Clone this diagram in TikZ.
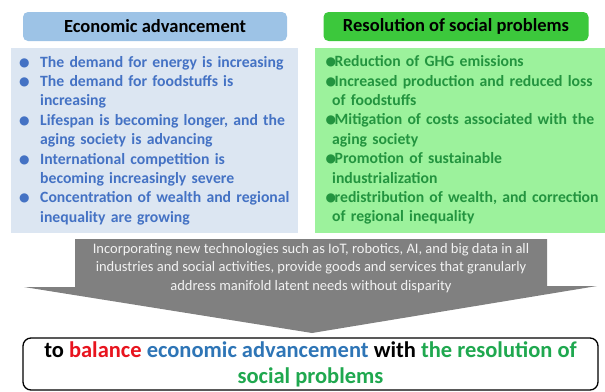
\documentclass[tikz,border=0pt]{standalone}
\usepackage{fontspec}
\setmainfont{Carlito}
\newfontfamily\dotfont{DejaVu Sans}
\usetikzlibrary{positioning}

% colours
\definecolor{ecoHead}{HTML}{9DC3E6}
\definecolor{ecoFill}{HTML}{DCE6F2}
\definecolor{ecoText}{HTML}{4472C4}
\definecolor{socHead}{HTML}{3CC83C}
\definecolor{socFill}{HTML}{9CF29C}
\definecolor{socText}{HTML}{23943F}
\definecolor{arrowGray}{HTML}{808080}
\definecolor{goalRed}{HTML}{E8141E}
\definecolor{goalBlue}{HTML}{2E75B6}
\definecolor{goalGreen}{HTML}{1FA84F}

% list bullets
\newcommand{\ecobul}{\par\noindent\hangindent=24pt\hangafter=1%
  \makebox[24pt][l]{\kern3pt\raisebox{1pt}{\dotfont\fontsize{12}{12}\selectfont ●}}}
\newcommand{\socbul}{\par\noindent\hangindent=5pt\hangafter=1%
  \makebox[7.5pt][l]{\kern-1.5pt\raisebox{1pt}{\dotfont\fontsize{12}{12}\selectfont ●}}}

\tikzset{
  headbox/.style={rounded corners=5pt, inner sep=0pt, minimum height=29pt,
    font=\bfseries\fontsize{18.5}{20}\selectfont},
  bodybox/.style={inner sep=0pt, minimum height=185pt},
  listtext/.style={anchor=north west, inner sep=0pt, align=left,
    font=\bfseries\fontsize{15.7}{19.4}\selectfont},
}

\begin{document}
\begin{tikzpicture}[x=1pt, y=-1pt]
  \useasboundingbox (0,0) rectangle (605,391);

  % economic advancement
  \node[headbox, fill=ecoHead, minimum width=264pt] (ecohead) at (155,26.5) {Economic advancement};
  \node[bodybox, fill=ecoFill, minimum width=287pt] (ecobody) at (154.5,140.5) {};
  \node[listtext, text=ecoText, text width=300pt] (ecolist) at (16,47.5) {%
    \ecobul The demand for energy is increasing
    \ecobul The demand for foodstuffs is\newline increasing
    \ecobul Lifespan is becoming longer, and the\newline aging society is advancing
    \ecobul International competition is\newline becoming increasingly severe
    \ecobul Concentration of wealth and regional\newline inequality are growing\par};

  % resolution of social problems
  \node[headbox, fill=socHead, minimum width=265pt] (sochead) at (456,26.5) {Resolution of social problems};
  \node[bodybox, fill=socFill, minimum width=290pt] (socbody) at (460,140.5) {};
  \node[listtext, text=socText, text width=300pt] (soclist) at (327,47) {%
    \socbul Reduction of GHG emissions
    \socbul Increased production and reduced loss\newline of foodstuffs
    \socbul Mitigation of costs associated with the\newline aging society
    \socbul Promotion of sustainable\newline industrialization
    \socbul redistribution of wealth, and correction\newline of regional inequality\par};

  % wide gray arrow
  \fill[arrowGray] (75,239) -- (547,239) -- (547,286) -- (597,286)
    -- (312,333) -- (24,287) -- (75,287) -- cycle;
  \node[text=white!95!black, align=center, font=\fontsize{14.5}{18.5}\selectfont] (means) at (311,268)
    {Incorporating new technologies such as IoT, robotics, AI, and big data in all\\
     industries and social activities, provide goods and services that granularly\\
     address manifold latent needs without disparity};

  % goal
  \node[draw=black, line width=1.3pt, rounded corners=8pt, fill=white,
    minimum width=575pt, minimum height=52pt, inner sep=0pt, align=center,
    font=\bfseries\fontsize{22.5}{26}\selectfont] (goal) at (310.5,364)
    {to \textcolor{goalRed}{balance} \textcolor{goalBlue}{economic advancement} with \textcolor{goalGreen}{the resolution of}\\
     \textcolor{goalGreen}{social problems}};
\end{tikzpicture}
\end{document}
